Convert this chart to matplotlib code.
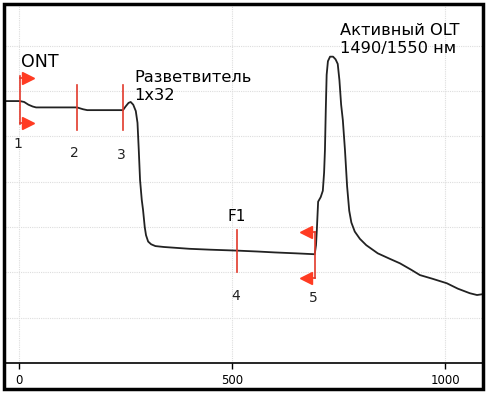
import matplotlib.pyplot as plt
from matplotlib.patches import Rectangle

# reflectogram trace (distance, level)
trace_x = [-33, 2, 12, 22, 32, 40, 136, 150, 160, 244, 250, 257, 262, 268,
           274, 278, 281, 284, 288, 291, 295, 298, 303, 310, 320, 340, 400,
           450, 512, 560, 600, 650, 694, 697, 699, 702, 708, 713, 716, 718,
           720, 722, 725, 730, 737, 743, 748, 752, 756, 760, 765, 770, 775,
           780, 788, 800, 815, 842, 870, 894, 920, 941, 970, 1004, 1030,
           1058, 1075, 1089]
trace_y = [28.9, 28.9, 28.8, 28.5, 28.3, 28.2, 28.2, 28.0, 27.9, 27.9, 28.3,
           28.7, 28.8, 28.5, 27.8, 26.5, 23.5, 20.2, 18.0, 16.9, 15.0, 14.1,
           13.4, 13.1, 12.9, 12.8, 12.6, 12.5, 12.4, 12.3, 12.2, 12.1, 12.0,
           13.0, 14.7, 17.8, 18.3, 19.0, 21.0, 23.5, 28.0, 31.8, 33.3, 33.8,
           33.8, 33.5, 33.0, 31.2, 28.5, 26.8, 23.5, 19.5, 16.8, 15.5, 14.5,
           13.7, 13.0, 12.1, 11.5, 11.0, 10.3, 9.7, 9.3, 8.8, 8.2, 7.7, 7.5,
           7.6]

# event markers: position, bottom, top, label, label y
mark_x = [2, 136, 244, 512, 695]
mark_lo = [26.4, 25.7, 25.7, 10.0, 9.4]
mark_hi = [31.7, 30.7, 30.7, 14.7, 14.5]
mark_labels = ["1", "2", "3", "4", "5"]
mark_label_x = [-2, 129, 239, 509, 690]
mark_label_y = [24.2, 23.2, 23.0, 7.4, 7.2]

x_ticks = [0, 500, 1000]
y_grid = [5, 10, 15, 20, 25, 30, 35]

red = "#e2392b"

fig = plt.figure(figsize=(4.87, 3.95), dpi=100)
ax = fig.add_axes([5 / 487, 32 / 395, 478 / 487, 358 / 395])
ax.set_xlim(-33, 1089)
ax.set_ylim(0, 39.5)

for gx in x_ticks:
    ax.axvline(gx, color="#dddddd", lw=0.8, ls=(0, (1, 1)), zorder=0)
for gy in y_grid:
    ax.axhline(gy, color="#dddddd", lw=0.8, ls=(0, (1, 1)), zorder=0)

ax.plot(trace_x, trace_y, color="#222222", lw=1.3, zorder=3)

for mx, lo, hi in zip(mark_x, mark_lo, mark_hi):
    ax.plot([mx, mx], [lo, hi], color=red, lw=1.2, zorder=4)
for lab, lx, ly in zip(mark_labels, mark_label_x, mark_label_y):
    ax.text(lx, ly, lab, ha="center", va="center", fontsize=10, color="#222222")

# connector arrows at ONT and OLT ends
for ay in [31.5, 26.5]:
    ax.plot([2, 19], [ay, ay], color=red, lw=1.2, zorder=4)
    ax.plot(22, ay, marker=">", ms=8, color="#ff3b22", mec="#ff3b22", zorder=5)
for ay in [14.5, 9.4]:
    ax.plot([676, 695], [ay, ay], color=red, lw=1.2, zorder=4)
    ax.plot(673, ay, marker="<", ms=8, color="#ff3b22", mec="#ff3b22", zorder=5)

ax.text(5, 33.2, "ONT", fontsize=12.5, ha="left", va="center")
ax.text(512, 16.2, "F1", fontsize=11, ha="center", va="center")
ax.text(270, 30.5, "Разветвитель\n1x32", fontsize=11.7, ha="left", va="center",
        linespacing=1.2)
ax.text(753, 35.7, "Активный OLT\n1490/1550 нм", fontsize=11.7, ha="left",
        va="center", linespacing=1.2)

ax.set_xticks(x_ticks)
ax.set_yticks([])
ax.tick_params(axis="x", length=4, width=1, labelsize=8.5, pad=4)
for s in ["left", "top", "right"]:
    ax.spines[s].set_visible(False)
ax.spines["bottom"].set_linewidth(1.2)

fig.patches.append(Rectangle((4 / 487, 6 / 395), 479 / 487, 385 / 395,
                             transform=fig.transFigure, fill=False,
                             edgecolor="black", lw=2.5))

fig.savefig("out.png", dpi=100)
